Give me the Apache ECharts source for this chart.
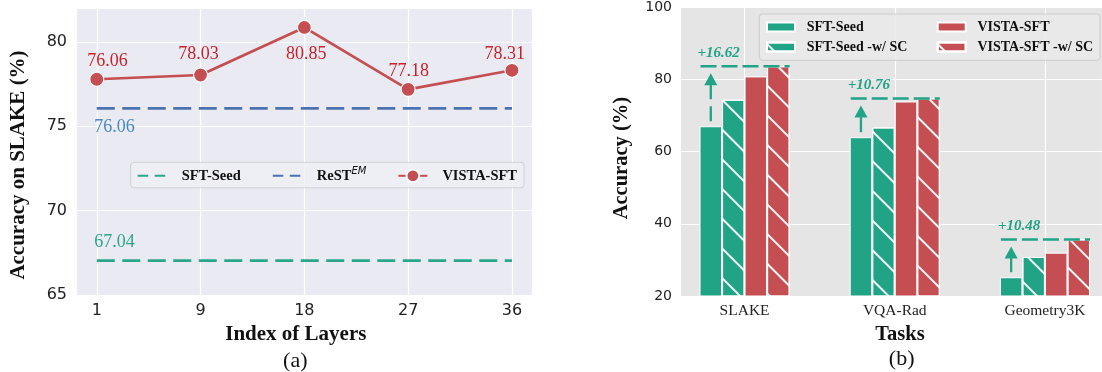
<!DOCTYPE html>
<html><head><meta charset="utf-8">
<script src="https://cdn.jsdelivr.net/npm/echarts@6/dist/echarts.min.js"></script>
<style>html,body{margin:0;padding:0;background:#fff}#c{width:1102px;height:372px}</style>
</head><body><div id="c"></div>
<script>
// ---------- data: panel (a) ----------
const layers = ['1', '9', '18', '27', '36'];
const sftSeedLine = [67.04, 67.04, 67.04, 67.04, 67.04];
const restEMLine = [76.06, 76.06, 76.06, 76.06, 76.06];
const vistaLine = [77.78, 78.03, 80.85, 77.18, 78.31];
const vistaLabels = ['76.06', '78.03', '80.85', '77.18', '78.31'];
// ---------- data: panel (b) ----------
const tasks = ['SLAKE', 'VQA-Rad', 'Geometry3K'];
const sftSeed = [67.04, 64.00, 25.20];
const sftSeedSC = [74.4, 66.7, 30.8];
const vistaSFT = [80.85, 73.9, 32.0];
const vistaSFTSC = [83.66, 74.76, 35.68];
const gains = ['+16.62', '+10.76', '+10.48'];

// ---------- styles ----------
const SERIF = '"Liberation Serif", "Times New Roman", serif';
const SANS = '"DejaVu Sans", sans-serif';
const TEAL = '#21a386';
const GREEN = '#2aa68a';
const BLUE = '#4c72b0';
const RED = '#c44e52';
const RED_TXT = '#c9222b';
const labelOffsetsA = [[10.8, -17.6], [-2.1, -20.7], [2, 26.6], [0.7, -18.3], [-7.2, -15.7]];
const BAR_FRAC = 0.15;
const hatch = {
  symbol: 'rect', symbolSize: 1, color: 'rgba(255,255,255,0.95)', backgroundColor: null,
  dashArrayX: [1, 0], dashArrayY: [1.3, 18.5], rotation: Math.PI / 4
};
const isInt = v => Math.abs(v - Math.round(v)) < 1e-6;
const HIDDEN_SYMBOL = { color: 'rgba(0,0,0,0)', borderColor: 'rgba(0,0,0,0)', borderWidth: 0 };

const chart = echarts.init(document.getElementById('c'), null, { renderer: 'canvas' });

function pairs(arr) { return arr.map((v, i) => [i, v]); }

// bar series names carry a trailing space so they stay distinct from the line series of panel (a)
const B_SEED = 'SFT-Seed ', B_SEED_SC = 'SFT-Seed -w/ SC ', B_VISTA = 'VISTA-SFT ', B_VISTA_SC = 'VISTA-SFT -w/ SC ';

const option = {
  animation: false,
  textStyle: { fontFamily: SERIF },
  grid: [
    { left: 76, right: 1102 - 532.7, top: 8, bottom: 372 - 295, show: true, backgroundColor: '#eaeaf2', borderWidth: 0, outerBoundsMode: 'none', containLabel: false },
    { left: 680, right: 0, top: 7.3, bottom: 372 - 296, show: true, backgroundColor: '#e5e5e5', borderWidth: 0, outerBoundsMode: 'none', containLabel: false }
  ],
  xAxis: [
    {
      gridIndex: 0, type: 'value', min: -0.2, max: 4.2, splitNumber: 5,
      axisLine: { show: false }, axisTick: { show: false },
      axisLabel: { formatter: v => (isInt(v) && v >= 0 && v < layers.length) ? layers[Math.round(v)] : '', fontFamily: SANS, fontSize: 16, color: '#222', margin: 8 },
      splitLine: { show: true, lineStyle: { color: '#ffffff', width: 1.2 } },
      name: 'Index of Layers', nameLocation: 'middle', nameGap: 27,
      nameTextStyle: { fontFamily: SERIF, fontWeight: 'bold', fontSize: 21, color: '#111', padding: [0, 17, 0, 0] }
    },
    {
      gridIndex: 1, type: 'value', min: -0.43, max: 2.38, splitNumber: 2,
      axisLine: { show: false }, axisTick: { show: false },
      axisLabel: { formatter: v => (isInt(v) && v >= 0 && v < tasks.length) ? tasks[Math.round(v)] : '', fontFamily: SERIF, fontSize: 15.5, color: '#222', margin: 7 },
      splitLine: { show: true, lineStyle: { color: '#ffffff', width: 1.2 } },
      name: 'Tasks', nameLocation: 'middle', nameGap: 28,
      nameTextStyle: { fontFamily: SERIF, fontWeight: 'bold', fontSize: 20.5, color: '#111', padding: [0, 0, 0, 18] }
    }
  ],
  yAxis: [
    {
      gridIndex: 0, type: 'value', min: 65, max: 82, interval: 5,
      axisLine: { show: false }, axisTick: { show: false },
      axisLabel: { formatter: v => (v % 5 === 0 ? String(v) : ''), fontFamily: SANS, fontSize: 16, color: '#222', margin: 9 },
      splitLine: { show: true, lineStyle: { color: '#ffffff', width: 1.2 } },
      name: 'Accuracy on SLAKE (%)', nameLocation: 'middle', nameGap: 47,
      nameTextStyle: { fontFamily: SERIF, fontWeight: 'bold', fontSize: 21, color: '#111', padding: [0, 27, 0, 0] }
    },
    {
      gridIndex: 1, type: 'value', min: 20, max: 100, interval: 20,
      axisLine: { show: false }, axisTick: { show: false },
      axisLabel: { fontFamily: SANS, fontSize: 14, color: '#222', margin: 8 },
      splitLine: { show: true, lineStyle: { color: '#ffffff', width: 1.2 } },
      name: 'Accuracy (%)', nameLocation: 'middle', nameGap: 48,
      nameTextStyle: { fontFamily: SERIF, fontWeight: 'bold', fontSize: 20.5, color: '#111', padding: [0, 13, 0, 0] }
    }
  ],
  legend: [
    {
      data: [
        { name: 'SFT-Seed', lineStyle: { type: [10.5, 6.5] }, itemStyle: HIDDEN_SYMBOL },
        { name: 'ReST^EM', lineStyle: { type: [10.5, 6.5] }, itemStyle: HIDDEN_SYMBOL },
        { name: 'VISTA-SFT', lineStyle: { type: 'solid' } }
      ],
      left: 130.7, top: 162.3, orient: 'horizontal',
      itemWidth: 29, itemHeight: 16, itemGap: 31,
      padding: [4.5, 7, 4.5, 6],
      backgroundColor: 'rgba(239,239,245,0.8)', borderColor: '#cfcfd6', borderWidth: 1, borderRadius: 3,
      formatter: name => name === 'ReST^EM' ? '{a|ReST}{sup|EM}' : '{a|' + name + '}',
      textStyle: {
        fontFamily: SERIF, fontWeight: 'bold', fontSize: 14.5, color: '#111',
        rich: {
          a: { fontFamily: SERIF, fontWeight: 'bold', fontSize: 14.5, color: '#111', padding: [0, 0, 0, 10], lineHeight: 18 },
          sup: { fontFamily: SANS, fontStyle: 'italic', fontWeight: 'normal', fontSize: 10, color: '#111', lineHeight: 10, verticalAlign: 'top' }
        }
      }
    },
    {
      data: [B_SEED, B_VISTA, B_SEED_SC, B_VISTA_SC],
      left: 759.3, top: 14, width: 345, orient: 'horizontal',
      itemWidth: 28, itemHeight: 9, itemGap: 6, icon: 'rect',
      padding: [6, 5.7, 6.3, 6.7],
      backgroundColor: 'rgba(234,234,234,0.85)', borderColor: '#cccccc', borderWidth: 1, borderRadius: 3,
      formatter: name => (name.indexOf('SFT-Seed') === 0 ? '{a|' : '{b|') + name.trim() + '}',
      textStyle: {
        fontFamily: SERIF, fontWeight: 'bold', fontSize: 14, color: '#111',
        rich: {
          a: { fontFamily: SERIF, fontWeight: 'bold', fontSize: 14, color: '#111', width: 124, padding: [0, 0, 0, 6.7], lineHeight: 16 },
          b: { fontFamily: SERIF, fontWeight: 'bold', fontSize: 14, color: '#111', width: 117, padding: [0, 0, 0, 6.7], lineHeight: 16 }
        }
      }
    }
  ],
  graphic: [
    { type: 'text', x: 295.3, y: 361, z: 10, style: { text: '(a)', font: '22px ' + SERIF, fill: '#111', align: 'center', verticalAlign: 'middle' } },
    { type: 'text', x: 901.7, y: 359, z: 10, style: { text: '(b)', font: '22px ' + SERIF, fill: '#111', align: 'center', verticalAlign: 'middle' } }
  ],
  series: [
    // ---- panel (a) ----
    {
      name: 'SFT-Seed', type: 'line', xAxisIndex: 0, yAxisIndex: 0, data: pairs(sftSeedLine),
      symbol: 'none', lineStyle: { color: GREEN, width: 2.7, type: [18, 7.5] }, itemStyle: { color: GREEN }, z: 3,
      markPoint: {
        symbol: 'circle', symbolSize: 0, silent: true,
        label: { show: true, position: 'inside', align: 'left', offset: [-2.5, -18.6], formatter: () => sftSeedLine[0].toFixed(2), color: GREEN, fontFamily: SERIF, fontSize: 18 },
        data: [{ coord: [0, sftSeedLine[0]] }]
      }
    },
    {
      name: 'ReST^EM', type: 'line', xAxisIndex: 0, yAxisIndex: 0, data: pairs(restEMLine),
      symbol: 'none', lineStyle: { color: BLUE, width: 2.7, type: [18, 7.5] }, itemStyle: { color: BLUE }, z: 3,
      markPoint: {
        symbol: 'circle', symbolSize: 0, silent: true,
        label: { show: true, position: 'inside', align: 'left', offset: [-2.5, 19.4], formatter: () => restEMLine[0].toFixed(2), color: '#4a89c5', fontFamily: SERIF, fontSize: 18 },
        data: [{ coord: [0, restEMLine[0]] }]
      }
    },
    {
      name: 'VISTA-SFT', type: 'line', xAxisIndex: 0, yAxisIndex: 0,
      data: vistaLine.map((v, i) => ({ value: [i, v], label: { offset: labelOffsetsA[i] } })),
      symbol: 'circle', symbolSize: 14, showSymbol: true,
      lineStyle: { color: RED, width: 2.7, type: 'solid' }, itemStyle: { color: RED, borderColor: '#ffffff', borderWidth: 1.2 }, z: 4,
      label: { show: true, position: 'inside', formatter: p => vistaLabels[p.dataIndex], color: RED_TXT, fontFamily: SERIF, fontSize: 18 }
    },
    // ---- panel (b) ----
    {
      name: B_SEED, type: 'bar', xAxisIndex: 1, yAxisIndex: 1, data: pairs(sftSeed),
      barWidth: (BAR_FRAC * 100) + '%', barGap: '0%',
      itemStyle: { color: TEAL, borderColor: '#ffffff', borderWidth: 1 }
    },
    {
      name: B_SEED_SC, type: 'bar', xAxisIndex: 1, yAxisIndex: 1, data: pairs(sftSeedSC),
      barWidth: (BAR_FRAC * 100) + '%', barGap: '0%',
      itemStyle: { color: TEAL, borderColor: '#ffffff', borderWidth: 1, decal: hatch }
    },
    {
      name: B_VISTA, type: 'bar', xAxisIndex: 1, yAxisIndex: 1, data: pairs(vistaSFT),
      barWidth: (BAR_FRAC * 100) + '%', barGap: '0%',
      itemStyle: { color: RED, borderColor: '#ffffff', borderWidth: 1 }
    },
    {
      name: B_VISTA_SC, type: 'bar', xAxisIndex: 1, yAxisIndex: 1, data: pairs(vistaSFTSC),
      barWidth: (BAR_FRAC * 100) + '%', barGap: '0%',
      itemStyle: { color: RED, borderColor: '#ffffff', borderWidth: 1, decal: hatch }
    },
    {
      name: 'gain', type: 'custom', xAxisIndex: 1, yAxisIndex: 1, z: 5, silent: true,
      data: tasks.map((t, i) => [i, sftSeed[i], vistaSFTSC[i]]),
      encode: { x: 0, y: [1, 2] },
      renderItem: (params, api) => {
        const i = api.value(0), base = api.value(1), top = api.value(2);
        const bw = api.size([1, 0])[0] * BAR_FRAC;
        const cx = api.coord([i, top])[0];
        const yTop = api.coord([i, top])[1];
        const yBase = api.coord([i, base])[1];
        const xL = cx - 2 * bw, xR = cx + 2 * bw;
        const ax = xL + bw / 2;
        const tipY = yTop + 7, headH = 12, headW = 13;
        return {
          type: 'group', children: [
            { type: 'line', shape: { x1: xL + 1, y1: yTop, x2: xR, y2: yTop }, style: { stroke: TEAL, lineWidth: 2.5, lineDash: [16, 5] } },
            { type: 'line', shape: { x1: ax, y1: yBase - 5, x2: ax, y2: tipY + headH - 1 }, style: { stroke: TEAL, lineWidth: 2.3, lineDash: [15, 7] } },
            { type: 'polygon', shape: { points: [[ax, tipY], [ax - headW / 2, tipY + headH], [ax + headW / 2, tipY + headH]] }, style: { fill: TEAL } },
            { type: 'text', x: xL - 2, y: yTop - 6, style: { text: gains[params.dataIndex], fill: TEAL, font: 'italic bold 15px ' + SERIF, align: 'left', verticalAlign: 'bottom' } }
          ]
        };
      }
    }
  ]
};
chart.setOption(option);
</script>
</body></html>
